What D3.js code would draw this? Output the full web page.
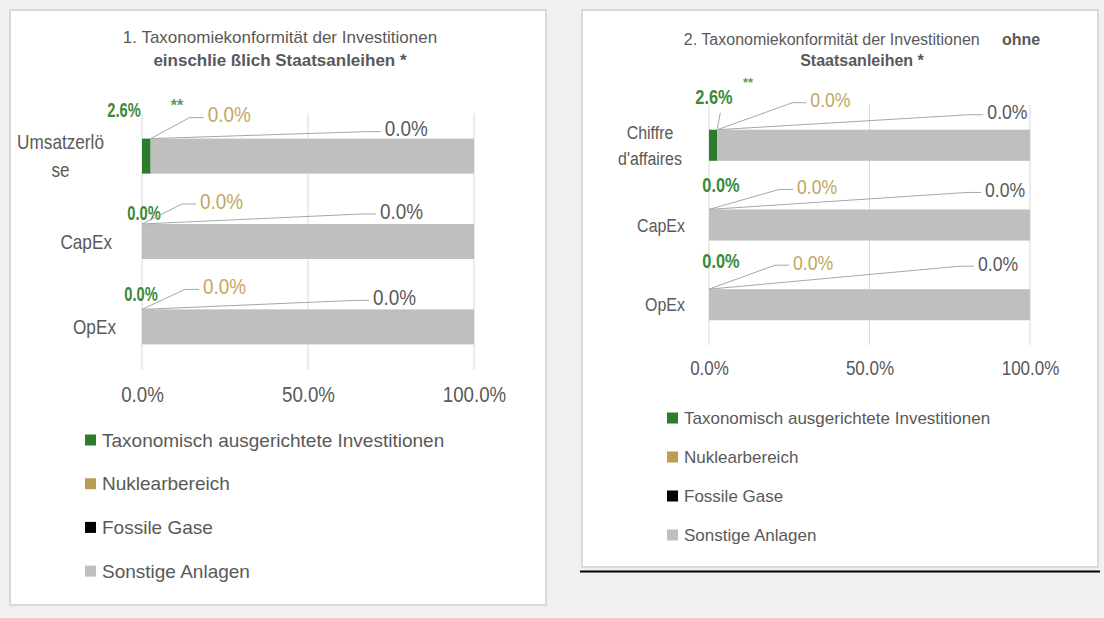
<!DOCTYPE html>
<html lang="de">
<head>
<meta charset="utf-8">
<title>Taxonomiekonformität</title>
<script src="https://cdn.jsdelivr.net/npm/d3@7"></script>
<style>
  body { margin: 0; background: #f0f0f0; }
  svg { display: block; font-family: "Liberation Sans", Arial, sans-serif; }
</style>
</head>
<body>
<svg id="chart" width="1104" height="618"></svg>
<script>
// ---- data ----
var seriesNames = ["Taxonomisch ausgerichtete Investitionen", "Nuklearbereich", "Fossile Gase", "Sonstige Anlagen"];
var seriesColors = ["#2e7b2e", "#bb9d55", "#000000", "#bfbfbf"];

var categories1 = [["Umsatzerlö", "se"], ["CapEx"], ["OpEx"]];
var aligned1 = [2.6, 0.0, 0.0];
var nuclear1 = [0.0, 0.0, 0.0];
var fossil1 = [0.0, 0.0, 0.0];
var other1 = [97.4, 100.0, 100.0];

var categories2 = [["Chiffre", "d'affaires"], ["CapEx"], ["OpEx"]];
var aligned2 = [2.6, 0.0, 0.0];
var nuclear2 = [0.0, 0.0, 0.0];
var fossil2 = [0.0, 0.0, 0.0];
var other2 = [97.4, 100.0, 100.0];

var tickValues = [0, 50, 100];

// ---- layout for each panel ----
var panels = [
  {
    box: [10, 10, 536, 595],
    title: [[{t: "1. Taxonomiekonformität der Investitionen", b: false}], [{t: "einschlie ßlich Staatsanleihen *", b: true}]],
    titleX: 280, titleY: [43, 66], titleSize: 17,
    cats: categories1, vals: [aligned1, nuclear1, fossil1, other1],
    x: [142, 474], y: [113, 370], pin: 0.59, pout: 0.3,
    tickY: 402, tickSize: 22, tickK: 0.85,
    catRight: [104, 112, 116], catSize: 20, catLine: 28, catK: 0.86,
    labSize: 22, labK: 0.86, greenSize: 21, greenK: 0.7,
    // label offsets: [dx, dy] of label centre/start relative to bar start / bar top
    green: [[-18, -29], [2, -11], [-1, -16]],
    stars: [177, -33],
    gold: [[57, -24], [58, -23], [61, -23]],
    gray: [[234, -10], [238, -13], [231, -12]],
    legX: 85, legY: 440, legStep: 43.7, legSize: 19, legBox: 11
  },
  {
    box: [582, 10, 516, 557],
    title: [[{t: "2. Taxonomiekonformität der Investitionen", b: false}, {t: "     ", b: false}, {t: "ohne", b: true}], [{t: "Staatsanleihen *", b: true}]],
    titleX: 862, titleY: [45, 66], titleSize: 16,
    cats: categories2, vals: [aligned2, nuclear2, fossil2, other2],
    x: [709, 1030], y: [105, 345], pin: 0.61, pout: 0.31,
    tickY: 375, tickSize: 20, tickK: 0.85,
    catRight: [682, 685, 685], catSize: 19, catLine: 26, catK: 0.84,
    labSize: 21, labK: 0.84, greenSize: 21, greenK: 0.78,
    green: [[5, -33], [12, -25], [12, -29]],
    stars: [748, -47],
    gold: [[93, -30], [88, -23], [84, -27]],
    gray: [[270, -18], [276, -20], [269, -26]],
    legX: 667, legY: 418, legStep: 39, legSize: 17, legBox: 11
  }
];

var svg = d3.select("#chart");
svg.append("rect").attr("width", 1104).attr("height", 618).attr("fill", "#f0f0f0");

// narrow text: draw at origin, move and squeeze horizontally
function narrowText(parent, x, y, str, k) {
  return parent.append("text").text(str)
    .attr("transform", "translate(" + x + "," + y + ") scale(" + k + ",1)");
}

panels.forEach(function(p, pi) {
  var g = svg.append("g");

  g.append("rect")
    .attr("x", p.box[0]).attr("y", p.box[1])
    .attr("width", p.box[2]).attr("height", p.box[3])
    .attr("fill", "#ffffff").attr("stroke", "#d9d9d9").attr("stroke-width", 2);

  // title
  p.title.forEach(function(line, li) {
    var t = g.append("text")
      .attr("x", p.titleX).attr("y", p.titleY[li])
      .attr("text-anchor", "middle")
      .attr("font-size", p.titleSize)
      .attr("fill", "#595959")
      .attr("xml:space", "preserve");
    line.forEach(function(part) {
      t.append("tspan").text(part.t).attr("font-weight", part.b ? "bold" : "normal");
    });
  });

  var x = d3.scaleLinear().domain([0, 100]).range(p.x);
  var y = d3.scaleBand().domain(d3.range(p.cats.length)).range(p.y)
    .paddingInner(p.pin).paddingOuter(p.pout);

  // gridlines
  g.selectAll(".grid").data(tickValues).enter().append("line")
    .attr("x1", function(d) { return x(d); }).attr("x2", function(d) { return x(d); })
    .attr("y1", p.y[0]).attr("y2", p.y[1])
    .attr("stroke", "#d9d9d9").attr("stroke-width", 1);

  // axis tick labels
  var axis = d3.axisBottom(x).tickValues(tickValues).tickSize(0)
    .tickFormat(function(d) { return d.toFixed(1) + "%"; });
  var ax = g.append("g").attr("transform", "translate(0," + (p.tickY - 16) + ")").call(axis);
  ax.select(".domain").remove();
  ax.selectAll("text").attr("font-size", p.tickSize).attr("fill", "#595959")
    .attr("font-family", "Liberation Sans, Arial, sans-serif")
    .attr("dy", 0).attr("y", 16).attr("transform", "scale(" + p.tickK + ",1)");

  // stacked bars
  var stacked = p.cats.map(function(c, i) {
    var acc = 0;
    return p.vals.map(function(s, si) {
      var seg = {row: i, s: si, v: s[i], x0: acc, x1: acc + s[i]};
      acc += s[i];
      return seg;
    });
  });
  var segs = [].concat.apply([], stacked);
  g.selectAll(".seg").data(segs.filter(function(d) { return d.v > 0; })).enter().append("rect")
    .attr("x", function(d) { return x(d.x0); })
    .attr("width", function(d) { return x(d.x1) - x(d.x0); })
    .attr("y", function(d) { return y(d.row); })
    .attr("height", y.bandwidth())
    .attr("fill", function(d) { return seriesColors[d.s]; });

  // category labels
  p.cats.forEach(function(lines, i) {
    var cy = y(i) + y.bandwidth() / 2;
    var top = cy - (lines.length - 1) * p.catLine / 2;
    var t = g.append("text").attr("font-size", p.catSize).attr("fill", "#595959")
      .attr("text-anchor", "middle");
    var tsp = lines.map(function(l, li) {
      return t.append("tspan").text(l).attr("x", 0).attr("y", li * p.catLine).attr("dy", "0.35em");
    });
    var maxW = d3.max(tsp, function(s) { return s.node().getComputedTextLength(); }) * p.catK;
    t.attr("transform", "translate(" + (p.catRight[i] - maxW / 2) + "," + top + ") scale(" + p.catK + ",1)");
  });

  // data labels with leader lines
  stacked.forEach(function(row, i) {
    var top = y(i);
    // green (aligned) label
    narrowText(g, x(row[0].x0) + p.green[i][0], top + p.green[i][1], row[0].v.toFixed(1) + "%", p.greenK)
      .attr("dy", "0.35em").attr("text-anchor", "middle").attr("font-weight", "bold")
      .attr("font-size", p.greenSize).attr("fill", "#3a8a3a");
    if (row[0].v > 0) {
      g.append("text").text("**")
        .attr("x", p.stars[0]).attr("y", top + p.stars[1]).attr("dy", "0.35em")
        .attr("text-anchor", "middle").attr("font-weight", "bold")
        .attr("font-size", pi === 0 ? 16 : 13).attr("fill", "#5a9a5a");
      if (pi === 1) {
        g.append("line")
          .attr("x1", x(row[0].x1)).attr("y1", top - 1)
          .attr("x2", x(row[0].x1) + 3).attr("y2", top - 17)
          .attr("stroke", "#a6a6a6").attr("stroke-width", 1);
      }
    }
    // gold (nuclear) and gray (fossil) labels
    [[1, p.gold[i], "#c3a660"], [2, p.gray[i], "#595959"]].forEach(function(cfg) {
      var seg = row[cfg[0]];
      var ax0 = x(seg.x0), ay0 = top;
      var tx = ax0 + cfg[1][0], ty = top + cfg[1][1];
      g.append("polyline")
        .attr("points", [[ax0, ay0], [tx - 18, ty + 3], [tx - 4, ty + 3]].join(" "))
        .attr("fill", "none").attr("stroke", "#a6a6a6").attr("stroke-width", 1);
      narrowText(g, tx, ty, seg.v.toFixed(1) + "%", p.labK)
        .attr("dy", "0.35em").attr("font-size", p.labSize).attr("fill", cfg[2]);
    });
  });

  // legend
  seriesNames.forEach(function(name, si) {
    var ly = p.legY + si * p.legStep;
    g.append("rect")
      .attr("x", p.legX).attr("y", ly - p.legBox / 2)
      .attr("width", p.legBox).attr("height", p.legBox)
      .attr("fill", seriesColors[si]);
    g.append("text").text(name)
      .attr("x", p.legX + p.legBox + 6).attr("y", ly).attr("dy", "0.35em")
      .attr("font-size", p.legSize).attr("fill", "#595959");
  });
});

// black rule under second panel
svg.append("line").attr("x1", 580).attr("x2", 1100).attr("y1", 571.5).attr("y2", 571.5)
  .attr("stroke", "#000").attr("stroke-width", 2);
</script>
</body>
</html>
